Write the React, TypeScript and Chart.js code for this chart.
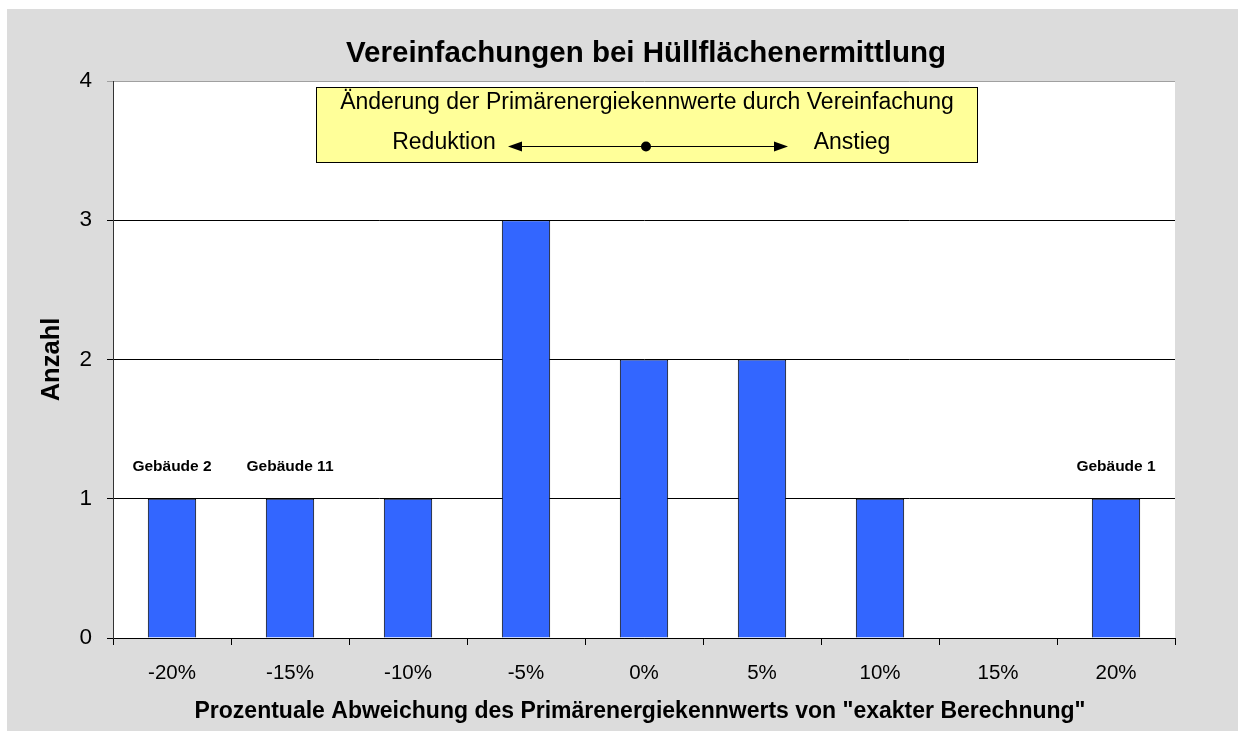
import React, { useEffect, useRef } from "react";
import { Chart, registerables } from "chart.js";

Chart.register(...registerables);

const categories = ["-20%", "-15%", "-10%", "-5%", "0%", "5%", "10%", "15%", "20%"];
const counts = [1, 1, 1, 3, 2, 2, 1, 0, 1];
const yTicks = [0, 1, 2, 3, 4];
const noteLabels = ["Gebäude 2", "Gebäude 11", "Gebäude 1"];
const noteIndex = [0, 1, 8];
const noteValue = [1.2, 1.2, 1.2];

const TITLE = "Vereinfachungen bei Hüllflächenermittlung";
const Y_TITLE = "Anzahl";
const X_TITLE = 'Prozentuale Abweichung des Primärenergiekennwerts von "exakter Berechnung"';
const BOX_LINE1 = "Änderung der Primärenergiekennwerte durch Vereinfachung";
const BOX_LEFT = "Reduktion";
const BOX_RIGHT = "Anstieg";

const FONT = '"Liberation Sans", Arial, sans-serif';
const W = 1238;
const H = 731;

const decorPlugin = {
  id: "decor",
  beforeDraw(chart: any) {
    const { ctx, chartArea } = chart;
    ctx.save();
    ctx.fillStyle = "#ffffff";
    ctx.fillRect(0, 0, W, H);
    ctx.fillStyle = "#dcdcdc";
    ctx.fillRect(7, 9, W - 7, H - 9);
    ctx.fillStyle = "#ffffff";
    ctx.fillRect(chartArea.left, chartArea.top, chartArea.right - chartArea.left, chartArea.bottom - chartArea.top);
    ctx.restore();
  },
  afterDraw(chart: any) {
    const { ctx, chartArea, scales } = chart;
    const cx = (chartArea.left + chartArea.right) / 2;
    ctx.save();
    ctx.fillStyle = "#000";
    ctx.textAlign = "center";
    ctx.textBaseline = "alphabetic";
    // Title
    ctx.font = `bold 29.5px ${FONT}`;
    ctx.fillText(TITLE, cx + 2, 62);
    // X title
    ctx.font = `bold 23px ${FONT}`;
    ctx.fillText(X_TITLE, 640, 718);
    // Y title
    ctx.save();
    ctx.translate(52, (chartArea.top + chartArea.bottom) / 2);
    ctx.rotate(-Math.PI / 2);
    ctx.textBaseline = "middle";
    ctx.font = `bold 25.5px ${FONT}`;
    ctx.fillText(Y_TITLE, 0, 0);
    ctx.restore();

    // Notes above bars
    ctx.font = `bold 15.5px ${FONT}`;
    noteLabels.forEach((t, i) => {
      const x = scales.x.getPixelForValue(noteIndex[i]);
      const y = scales.y.getPixelForValue(noteValue[i]);
      ctx.fillText(t, x, y);
    });

    // Yellow box
    const bx = 316, by = 87, bw = 661, bh = 75;
    ctx.fillStyle = "#ffff99";
    ctx.fillRect(bx, by, bw, bh);
    ctx.strokeStyle = "#000";
    ctx.lineWidth = 1;
    ctx.strokeRect(bx + 0.5, by + 0.5, bw, bh);
    ctx.fillStyle = "#000";
    ctx.textBaseline = "middle";
    ctx.font = `23px ${FONT}`;
    ctx.fillText(BOX_LINE1, 647, 103);
    ctx.fillText(BOX_LEFT, 444, 143);
    ctx.fillText(BOX_RIGHT, 852, 143);
    // arrow
    const ay = 146.5;
    ctx.beginPath();
    ctx.moveTo(515, ay);
    ctx.lineTo(780, ay);
    ctx.stroke();
    ctx.beginPath();
    ctx.moveTo(508, ay);
    ctx.lineTo(522, ay - 5);
    ctx.lineTo(522, ay + 5);
    ctx.closePath();
    ctx.fill();
    ctx.beginPath();
    ctx.moveTo(788, ay);
    ctx.lineTo(774, ay - 5);
    ctx.lineTo(774, ay + 5);
    ctx.closePath();
    ctx.fill();
    ctx.beginPath();
    ctx.arc(646, ay, 5, 0, Math.PI * 2);
    ctx.fill();
    ctx.restore();
  },
};

export default function App() {
  const ref = useRef<HTMLCanvasElement | null>(null);
  useEffect(() => {
    if (!ref.current) return;
    const chart = new Chart(ref.current, {
      type: "bar",
      data: {
        labels: categories,
        datasets: [
          {
            data: counts,
            backgroundColor: "#3366ff",
            borderColor: "#000000",
            borderWidth: 1,
            categoryPercentage: 1,
            barPercentage: 0.41,
          },
        ],
      },
      options: {
        responsive: false,
        animation: false,
        devicePixelRatio: 1,
        layout: { padding: { left: 0, top: 81, right: 63, bottom: 0 } },
        plugins: { legend: { display: false }, tooltip: { enabled: false }, title: { display: false } },
        scales: {
          x: {
            offset: true,
            grid: {
              offset: true,
              drawOnChartArea: false,
              drawTicks: true,
              tickLength: 7,
              color: "#000",
            },
            border: { display: true, color: "#000", width: 1 },
            ticks: { color: "#000", font: { family: FONT, size: 20.5 }, padding: 16, maxRotation: 0 },
            afterFit: (s: any) => {
              s.height = 93;
            },
          },
          y: {
            min: 0,
            max: 4,
            afterBuildTicks: (s: any) => {
              s.ticks = yTicks.map((v) => ({ value: v }));
            },
            grid: {
              drawTicks: true,
              tickLength: 6,
              color: (c: any) => (c.tick && c.tick.value === 4 ? "#a0a0a0" : "#000"),
            },
            border: { display: true, color: "#333", width: 1 },
            ticks: { color: "#000", font: { family: FONT, size: 22.5 }, padding: 15 },
            afterFit: (s: any) => {
              s.width = 113;
            },
          },
        },
      },
      plugins: [decorPlugin],
    });
    return () => chart.destroy();
  }, []);
  return (
    <div style={{ position: "fixed", left: 0, top: 0, width: W, height: H }}>
      <canvas ref={ref} width={W} height={H} style={{ display: "block", width: W, height: H }} />
    </div>
  );
}
